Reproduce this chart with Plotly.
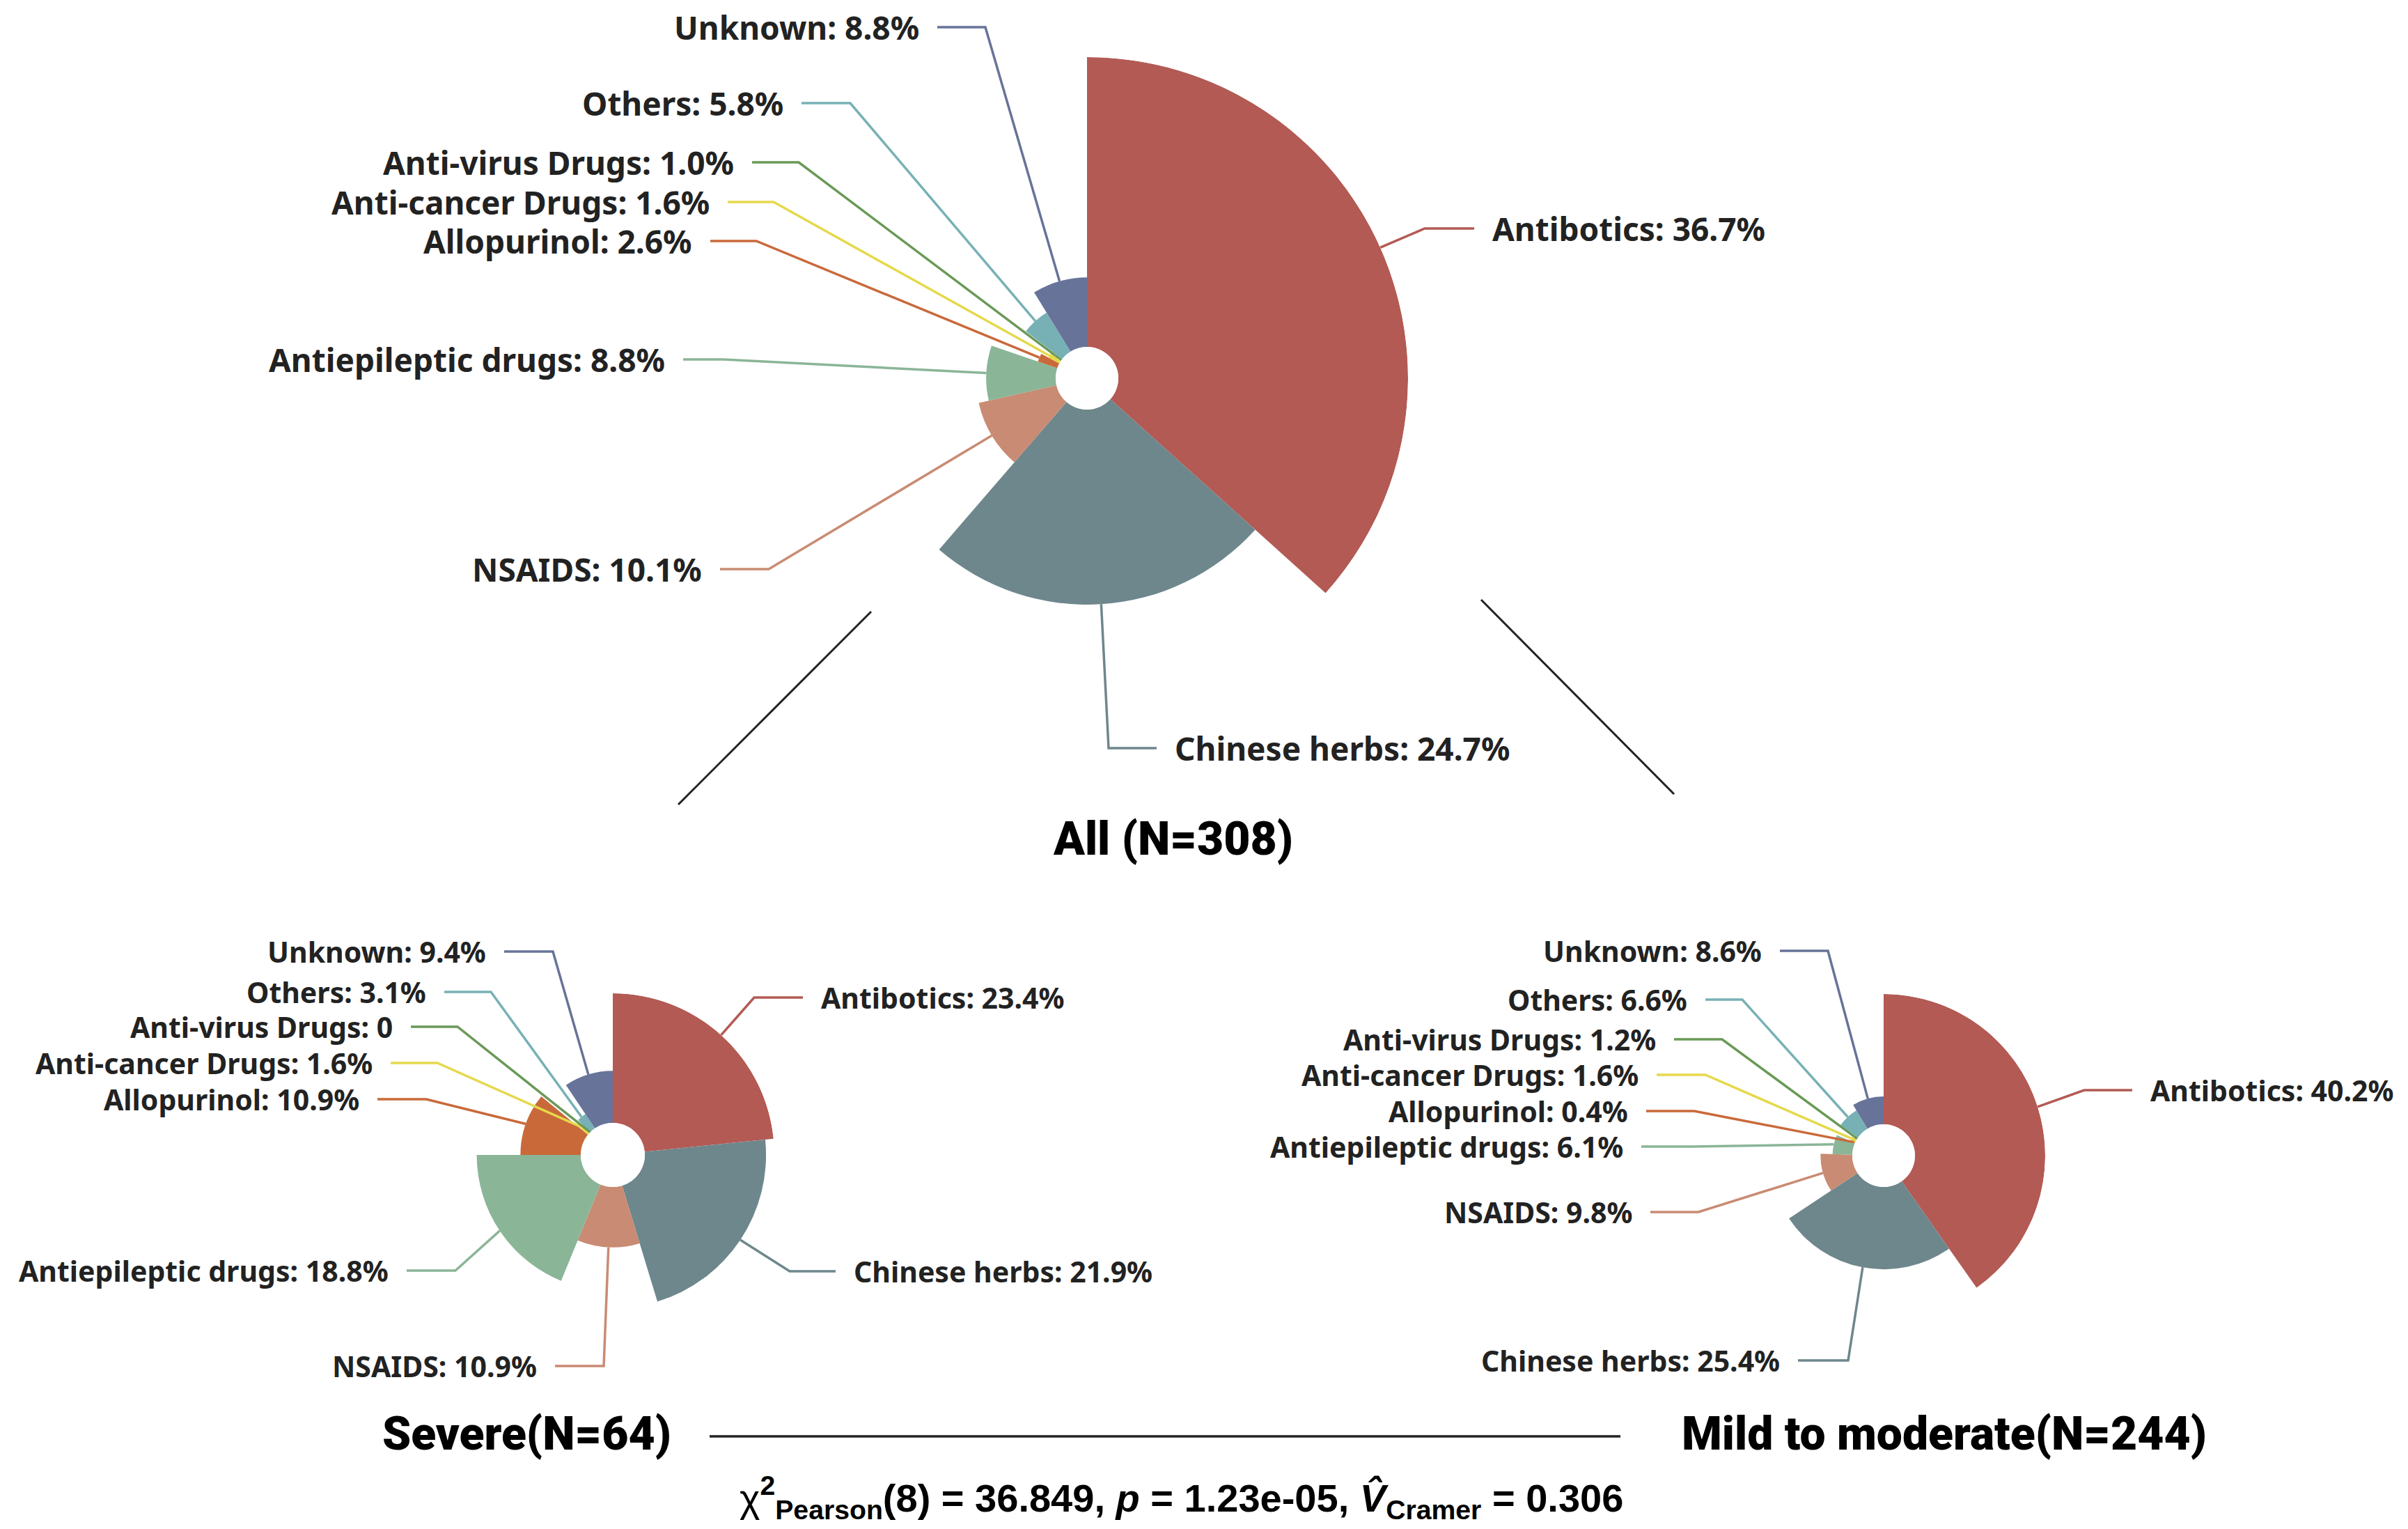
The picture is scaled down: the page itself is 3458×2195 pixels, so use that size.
import math
import plotly.graph_objects as go

W, H = 3458, 2195
OFF = 8  # page body margin offset (px)

# ---------------- data ----------------
categories = ["Antibotics", "Chinese herbs", "NSAIDS", "Antiepileptic drugs", "Allopurinol",
              "Anti-cancer Drugs", "Anti-virus Drugs", "Others", "Unknown"]
all_pct = [36.7, 24.7, 10.1, 8.8, 2.6, 1.6, 1.0, 5.8, 8.8]
severe_pct = [23.4, 21.9, 10.9, 18.8, 10.9, 1.6, 0, 3.1, 9.4]
mild_pct = [40.2, 25.4, 9.8, 6.1, 0.4, 1.6, 1.2, 6.6, 8.6]

chart_titles = ["All (N=308)", "Severe(N=64)", "Mild to moderate(N=244)"]
stats_text = ('<span style="font-weight:normal">χ</span><sup>2</sup><sub>Pearson</sub>(8) = 36.849, '
              '<i>p</i> = 1.23e-05, <i>V̂</i><sub>Cramer</sub> = 0.306')

# ---------------- styles ----------------
colors = ["#b35a54", "#6e878c", "#c98b73", "#8bb597", "#c9693a",
          "#e5d94c", "#6a9957", "#78b1b5", "#677399"]

# chart geometry in pixels: center x, center y, outer radius, hole radius
geom = {
    "all": (1561, 543, 461, 45),
    "severe": (880, 1658, 232, 46),
    "mild": (2705, 1659, 232, 45),
}
# label layout (elbow x, elbow y, line end x) in pixels, per category
label_pos = {
    "all": [(2046, 328, 2117), (1592, 1074, 1661), (1104, 817, 1034), (1039, 516, 981),
            (1086, 346, 1020), (1111, 290, 1045), (1147, 233, 1080), (1221, 148, 1151),
            (1415, 39, 1346)],
    "severe": [(1083, 1432, 1153), (1134, 1825, 1200), (867, 1961, 797), (654, 1824, 584),
               (612, 1578, 542), (628, 1526, 561), (657, 1474, 590), (705, 1424, 638),
               (794, 1366, 724)],
    "mild": [(2993, 1565, 3062), (2654, 1953, 2582), (2439, 1740, 2370), (2430, 1646, 2357),
             (2433, 1595, 2364), (2449, 1543, 2379), (2473, 1492, 2404), (2502, 1435, 2449),
             (2625, 1365, 2556)],
}
label_font = {"all": 46, "severe": 41, "mild": 41}
GAP = 24


def X(px):
    return (px - OFF) / W


def Y(py):
    return 1 - (py - OFF) / H


fig = go.Figure()
shapes = []
annotations = []

series = [("all", all_pct, "polar"), ("severe", severe_pct, "polar2"), ("mild", mild_pct, "polar3")]
layout_polars = {}
for key, vals, pname in series:
    cx, cy, R, hole = geom[key]
    total = sum(vals)
    widths = [v / total * 360 for v in vals]
    mids = []
    acc = 0
    for w in widths:
        mids.append(acc + w / 2)
        acc += w
    vmax = max(vals)
    fig.add_trace(go.Barpolar(
        r=vals, theta=mids, width=widths,
        marker=dict(color=colors, line=dict(width=0)),
        subplot=pname, hoverinfo="skip", showlegend=False,
    ))
    layout_polars[pname] = dict(
        domain=dict(x=[X(cx - R), X(cx + R)], y=[Y(cy + R), Y(cy - R)]),
        hole=hole / R,
        bgcolor="rgba(0,0,0,0)",
        radialaxis=dict(range=[0, vmax], visible=False, showgrid=False, showline=False),
        angularaxis=dict(rotation=90, direction="clockwise", visible=False,
                         showgrid=False, showline=False),
    )
    # leader lines and labels
    for i, (cat, v) in enumerate(zip(categories, vals)):
        ang = math.radians(mids[i])
        rp = hole + (R - hole) * v / vmax
        sx = cx + rp * math.sin(ang)
        sy = cy - rp * math.cos(ang)
        ex, ey, endx = label_pos[key][i]
        shapes.append(dict(
            type="path", xref="paper", yref="paper",
            path=f"M {X(sx)},{Y(sy)} L {X(ex)},{Y(ey)} L {X(endx)},{Y(ey)}",
            line=dict(color=colors[i], width=3.5),
        ))
        right = endx > ex
        txt = f"{cat}: {v:.1f}%" if v != 0 else f"{cat}: 0"
        annotations.append(dict(
            text=txt, x=X(endx + GAP if right else endx - GAP), y=Y(ey),
            xref="paper", yref="paper", xanchor="left" if right else "right",
            yanchor="middle", showarrow=False,
            font=dict(family="Noto Sans", size=label_font[key], color="#222222", weight="bold"),
        ))

# connector lines
for (x0, y0, x1, y1, w) in [(1251, 878, 974, 1155, 3), (2127, 861, 2404, 1140, 3),
                            (1019, 2062, 2327, 2062, 3.5)]:
    shapes.append(dict(type="line", xref="paper", yref="paper",
                       x0=X(x0), y0=Y(y0), x1=X(x1), y1=Y(y1),
                       line=dict(color="#222222", width=w)))

title_font = dict(family="Roboto, Liberation Sans", size=66, color="#000000", weight=900)
for txt, (tx, ty) in zip(chart_titles, [(1684, 1204), (756, 2058), (2792, 2058)]):
    annotations.append(dict(text=txt, x=X(tx), y=Y(ty), xref="paper", yref="paper",
                            xanchor="center", yanchor="middle", showarrow=False, font=title_font))

annotations.append(dict(text=stats_text, x=X(1696), y=Y(2150), xref="paper", yref="paper",
                        xanchor="center", yanchor="middle", showarrow=False,
                        font=dict(family="Liberation Sans", size=56, color="#000000", weight="bold")))

fig.update_layout(
    width=W, height=H,
    margin=dict(l=0, r=0, t=0, b=0),
    paper_bgcolor="white", plot_bgcolor="white",
    shapes=shapes, annotations=annotations,
    **layout_polars,
)

fig.write_html("out.html")
